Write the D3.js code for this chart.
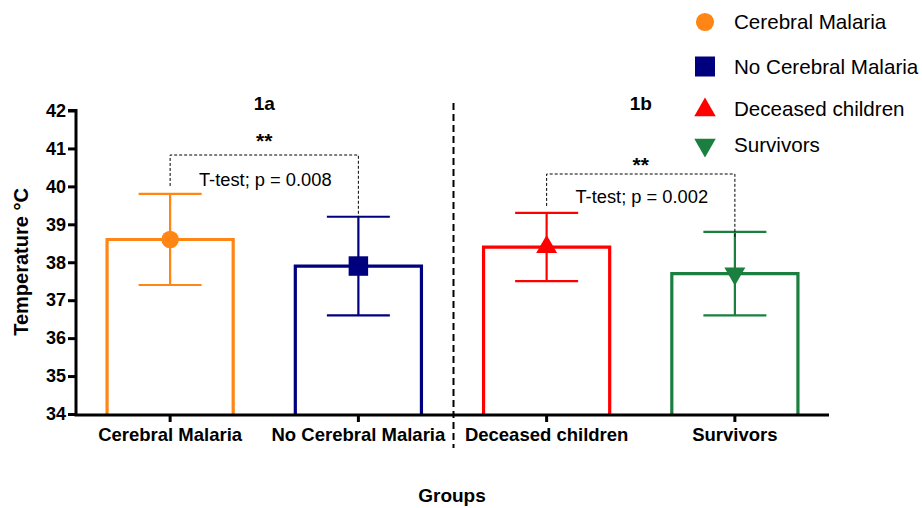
<!DOCTYPE html>
<html><head><meta charset="utf-8">
<script src="https://cdn.jsdelivr.net/npm/d3@7"></script>
<style>body{margin:0;background:#fff}svg{display:block;font-family:"Liberation Sans",Arial,sans-serif}</style>
</head><body><svg id="c" width="922" height="508"></svg>
<script>
const categories = ["Cerebral Malaria","No Cerebral Malaria","Deceased children","Survivors"];
const means = [38.6, 37.9, 38.4, 37.7];
const errHigh = [39.8, 39.2, 39.3, 38.8];
const errLow = [37.4, 36.6, 37.5, 36.6];
const colors = ["#FF8614","#00007F","#FF0000","#1B7F3F"];
const symbols = ["circle","square","triangle","triangleDown"];
const yTicks = [34,35,36,37,38,39,40,41,42];
const panelLabels = ["1a","1b"];
const tests = [{a:0,b:1,text:"T-test; p = 0.008",stars:"**"},{a:2,b:3,text:"T-test; p = 0.002",stars:"**"}];

const svg = d3.select("#c");
const x = d3.scaleBand().domain(categories).range([76,829]).padding(0);
const y = d3.scaleLinear().domain([34,42]).range([414,110.5]);
const barW = x.bandwidth()*0.67;
const cx = c => x(c)+x.bandwidth()/2;

function sym(name, size){
  if(name==="circle") return d3.symbol(d3.symbolCircle, size)();
  if(name==="square") return d3.symbol(d3.symbolSquare, size)();
  return d3.symbol(d3.symbolTriangle, size)();
}
const symSize = {circle:240, square:380, triangle:190, triangleDown:190};

categories.forEach((c,i)=>{
  const l = cx(c)-barW/2, r = cx(c)+barW/2;
  svg.append("path").attr("d",`M${l},${y(34)}V${y(means[i])}H${r}V${y(34)}`)
    .attr("fill","none").attr("stroke",colors[i]).attr("stroke-width",3.2);
  const g = svg.append("g").attr("stroke",colors[i]).attr("stroke-width",2.2);
  g.append("line").attr("x1",cx(c)).attr("x2",cx(c)).attr("y1",y(errLow[i])).attr("y2",y(errHigh[i]));
  [errLow[i],errHigh[i]].forEach(v=>g.append("line").attr("x1",cx(c)-31.5).attr("x2",cx(c)+31.5).attr("y1",y(v)).attr("y2",y(v)));
  const s = symbols[i];
  svg.append("path").attr("d",sym(s,symSize[s]))
    .attr("transform",`translate(${cx(c)},${y(means[i])})${s==="triangleDown"?" rotate(180)":""}`)
    .attr("fill",colors[i]);
});

const yAxis = d3.axisLeft(y).tickValues(yTicks).tickSize(8).tickPadding(2).tickFormat(d3.format("d"));
const ya = svg.append("g").attr("transform","translate(76,0)").call(yAxis);
ya.select(".domain").attr("stroke-width",3).attr("d",`M-8,${y(42)}H0V${y(34)+1.5}`);
ya.selectAll(".tick line").attr("stroke-width",3);
ya.selectAll("text").attr("font-size",18).attr("font-weight","bold").attr("fill","#000").attr("font-family","Liberation Sans, Arial, sans-serif");

const xAxis = d3.axisBottom(x).tickSize(7).tickPadding(6);
const xa = svg.append("g").attr("transform",`translate(0,${y(34)+1})`).call(xAxis);
xa.select(".domain").attr("stroke-width",3).attr("d","M74.5,0H829");
xa.selectAll(".tick line").attr("stroke-width",3);
xa.selectAll("text").attr("font-size",18.5).attr("font-weight","bold").attr("fill","#000").attr("font-family","Liberation Sans, Arial, sans-serif");

svg.append("text").attr("transform",`translate(28,262) rotate(-90)`).attr("text-anchor","middle")
  .attr("font-size",20).attr("font-weight","bold").text("Temperature °C");
svg.append("text").attr("x",452).attr("y",502).attr("text-anchor","middle")
  .attr("font-size",19).attr("font-weight","bold").text("Groups");

const divX = (x(categories[1])+x.bandwidth()+x(categories[2]))/2 + 1;
svg.append("line").attr("x1",divX).attr("x2",divX).attr("y1",103).attr("y2",448)
  .attr("stroke","#000").attr("stroke-width",2).attr("stroke-dasharray","7,4");

[[0,1],[2,3]].forEach((p,k)=>{
  const mx = (cx(categories[p[0]])+cx(categories[p[1]]))/2;
  svg.append("text").attr("x",mx).attr("y",109.5).attr("text-anchor","middle")
    .attr("font-size",19).attr("font-weight","bold").text(panelLabels[k]);
});

const brTop = [155,174], brStars=[148,172], brText=[185.5,203.3];
tests.forEach((t,k)=>{
  const xa1 = cx(categories[t.a]), xb = cx(categories[t.b]);
  const yl = k===0 ? y(errHigh[t.a])-8 : y(errHigh[t.a])-7;
  const yr = k===0 ? y(errHigh[t.b]) : y(errHigh[t.b])+6;
  svg.append("path").attr("d",`M${xa1},${yl}V${brTop[k]}H${xb}V${yr}`)
    .attr("fill","none").attr("stroke","#000").attr("stroke-width",1).attr("stroke-dasharray","3,2");
  const mx = (xa1+xb)/2;
  svg.append("text").attr("x",mx).attr("y",brStars[k]).attr("text-anchor","middle")
    .attr("font-size",21).attr("font-weight","bold").text(t.stars);
  svg.append("text").attr("x",mx+1).attr("y",brText[k]).attr("text-anchor","middle")
    .attr("font-size",18.3).text(t.text);
});

const legY = [22,66.5,110,145], legBase=[29.3,73.5,116,151.7];
categories.forEach((c,i)=>{
  const s = symbols[i];
  const ls = {circle:260, square:400, triangle:200, triangleDown:200}[s];
  svg.append("path").attr("d",sym(s,ls))
    .attr("transform",`translate(705,${legY[i]})${s==="triangleDown"?" rotate(180)":""}`)
    .attr("fill",colors[i]);
  svg.append("text").attr("x",734).attr("y",legBase[i]).attr("font-size",20.6).text(c);
});
</script></body></html>
